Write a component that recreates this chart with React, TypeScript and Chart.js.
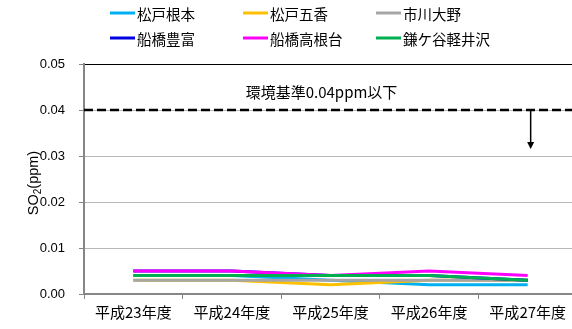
import React, { useEffect, useRef } from 'react';
import { Chart, registerables } from 'chart.js';

Chart.register(...registerables);

// Fiscal years on the x axis
const years = ['平成23年度', '平成24年度', '平成25年度', '平成26年度', '平成27年度'];

// Annual mean SO2 (ppm) per monitoring station
const matsudoNemoto = [0.004, 0.004, 0.003, 0.002, 0.002];
const matsudoGoko = [0.003, 0.003, 0.002, 0.003, 0.003];
const ichikawaOno = [0.003, 0.003, 0.003, 0.003, 0.003];
const funabashiToyotomi = [0.005, 0.005, 0.004, 0.004, 0.003];
const funabashiTakanedai = [0.005, 0.005, 0.004, 0.005, 0.004];
const kamagayaKaruizawa = [0.004, 0.004, 0.004, 0.004, 0.003];

const stationNames = ['松戸根本', '松戸五香', '市川大野', '船橋豊富', '船橋高根台', '鎌ケ谷軽井沢'];
const stationSeries = [
  matsudoNemoto,
  matsudoGoko,
  ichikawaOno,
  funabashiToyotomi,
  funabashiTakanedai,
  kamagayaKaruizawa,
];
const stationColors = ['#00B0F0', '#FFC000', '#A6A6A6', '#0000E0', '#FF00FF', '#00B050'];

// Y axis range and step
const yMin = 0;
const yMax = 0.05;
const yStep = 0.01;

// Environmental standard reference line
const standardValue = 0.04;
const standardLabel = '環境基準0.04ppm以下';

const CJK = "'Noto Sans CJK JP', 'Noto Sans', sans-serif";
const LATIN = "'Liberation Sans', Arial, sans-serif";

// Two-row, three-column legend above the plot
const legendPlugin = {
  id: 'gridLegend',
  afterDraw(chart: any) {
    const ctx = chart.ctx;
    const colX = [110, 243, 376];
    const rowY = [13, 38];
    ctx.save();
    ctx.font = `14.5px ${CJK}`;
    ctx.textBaseline = 'middle';
    ctx.textAlign = 'left';
    stationNames.forEach((name, i) => {
      const x = colX[i % 3];
      const y = rowY[Math.floor(i / 3)];
      ctx.strokeStyle = stationColors[i];
      ctx.lineWidth = 3;
      ctx.beginPath();
      ctx.moveTo(x, y);
      ctx.lineTo(x + 25, y);
      ctx.stroke();
      ctx.fillStyle = '#000';
      ctx.fillText(name, x + 27, y + 1);
    });
    ctx.restore();
  },
};

// Y axis title with a real subscript
const yTitlePlugin = {
  id: 'so2Title',
  afterDraw(chart: any) {
    const ctx = chart.ctx;
    const area = chart.chartArea;
    const big = `14.5px ${LATIN}`;
    const small = `10px ${LATIN}`;
    ctx.save();
    ctx.fillStyle = '#000';
    ctx.textBaseline = 'alphabetic';
    ctx.textAlign = 'left';
    ctx.font = big;
    const w1 = ctx.measureText('SO').width;
    const w3 = ctx.measureText('(ppm)').width;
    ctx.font = small;
    const w2 = ctx.measureText('2').width;
    const total = w1 + w2 + w3;
    ctx.translate(38, (area.top + area.bottom) / 2 + 4);
    ctx.rotate(-Math.PI / 2);
    let x = -total / 2;
    ctx.font = big;
    ctx.fillText('SO', x, 0);
    x += w1;
    ctx.font = small;
    ctx.fillText('2', x, 3);
    x += w2;
    ctx.font = big;
    ctx.fillText('(ppm)', x, 0);
    ctx.restore();
  },
};

// Dashed standard line with its label and a downward arrow
const standardPlugin = {
  id: 'standardLine',
  afterDatasetsDraw(chart: any) {
    const ctx = chart.ctx;
    const area = chart.chartArea;
    const xs = chart.scales.x;
    const ys = chart.scales.y;
    const yLine = ys.getPixelForValue(standardValue);
    ctx.save();
    ctx.strokeStyle = '#000';
    ctx.lineWidth = 2.5;
    ctx.setLineDash([9, 4]);
    ctx.beginPath();
    ctx.moveTo(area.left, yLine);
    ctx.lineTo(area.right, yLine);
    ctx.stroke();
    ctx.setLineDash([]);

    ctx.fillStyle = '#000';
    ctx.font = `15px ${CJK}`;
    ctx.textAlign = 'left';
    ctx.textBaseline = 'middle';
    ctx.fillText(standardLabel, xs.getPixelForValue(1.14), ys.getPixelForValue(0.0438));

    const ax = xs.getPixelForValue(4.03);
    const tip = ys.getPixelForValue(0.0315);
    ctx.lineWidth = 1.5;
    ctx.beginPath();
    ctx.moveTo(ax, yLine);
    ctx.lineTo(ax, tip - 6);
    ctx.stroke();
    ctx.beginPath();
    ctx.moveTo(ax - 3.5, tip - 7);
    ctx.lineTo(ax + 3.5, tip - 7);
    ctx.lineTo(ax, tip);
    ctx.closePath();
    ctx.fill();
    ctx.restore();
  },
};

export default function App() {
  const canvasRef = useRef<HTMLCanvasElement | null>(null);

  useEffect(() => {
    const canvas = canvasRef.current;
    if (!canvas) return;
    const chart = new Chart(canvas, {
      type: 'line',
      data: {
        labels: years,
        datasets: stationSeries.map((values, i) => ({
          label: stationNames[i],
          data: values,
          borderColor: stationColors[i],
          backgroundColor: stationColors[i],
          borderWidth: 3,
          pointRadius: 0,
          tension: 0,
          fill: false,
          order: stationSeries.length - i,
        })),
      },
      options: {
        responsive: false,
        animation: false,
        devicePixelRatio: 1,
        layout: { padding: { top: 64, left: 0, right: 0, bottom: 0 } },
        plugins: {
          legend: { display: false },
          tooltip: { enabled: false },
          title: { display: false },
        },
        scales: {
          x: {
            type: 'category',
            offset: true,
            afterFit: (scale: any) => {
              scale.height = 35;
            },
            grid: {
              offset: true,
              drawOnChartArea: false,
              drawTicks: true,
              tickLength: 5,
              color: '#868686',
              lineWidth: 1,
            },
            border: { display: true, color: '#868686', width: 2 },
            ticks: {
              color: '#000',
              font: { family: CJK, size: 15 },
              padding: 4,
              maxRotation: 0,
              autoSkip: false,
            },
          },
          y: {
            min: yMin,
            max: yMax,
            afterFit: (scale: any) => {
              scale.width = 84;
            },
            grid: {
              color: (c: any) => (c.tick && c.tick.value >= yMax - 1e-9 ? '#000' : '#b8b8b8'),
              lineWidth: 1,
              drawTicks: true,
              tickLength: 5,
              tickColor: '#868686',
            },
            border: { display: true, color: '#868686', width: 2 },
            ticks: {
              stepSize: yStep,
              padding: 14,
              color: '#000',
              font: { family: LATIN, size: 13 },
              callback: (v: any) => Number(v).toFixed(2),
            },
          },
        },
      },
      plugins: [legendPlugin, yTitlePlugin, standardPlugin],
    });
    return () => chart.destroy();
  }, []);

  return (
    <div
      style={{
        position: 'fixed',
        top: 0,
        left: 0,
        width: 572,
        height: 329,
        overflow: 'hidden',
        background: '#fff',
      }}
    >
      <canvas ref={canvasRef} width={577} height={329} style={{ display: 'block' }} />
    </div>
  );
}
